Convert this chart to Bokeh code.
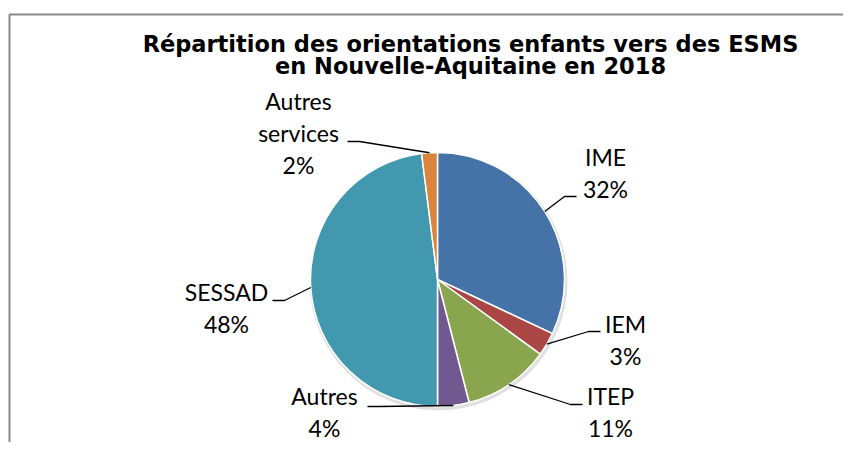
import math
from bokeh.plotting import figure
from bokeh.models import Range1d
from bokeh.core.properties import value
from bokeh.embed import file_html
from bokeh.resources import INLINE

# ---- data ----
categories = ["IME", "IEM", "ITEP", "Autres", "SESSAD", "Autres services"]
values = [32, 3, 11, 4, 48, 2]
colors = ["#4572A7", "#AA4643", "#89A54E", "#71588F", "#4198AF", "#DB843D"]
title_lines = ["Répartition des orientations enfants vers des ESMS",
               "en Nouvelle-Aquitaine en 2018"]

# ---- layout (picture pixel coordinates) ----
W, H = 843, 442
def px(x): return x
def py(y): return H - y

cx, cy, R = px(437), py(279), 127
# label centre x, first baseline y
label_pos = [(605, 164), (625, 331.7), (610, 403), (324, 403), (226, 299), (298, 108)]
# leader end (near text) x, y, direction toward pie
leader_end = [(576, 196, -1), (600, 331, -1), (582, 404, -1), (367, 406, 1), (272, 300, 1), (347, 141, 1)]
line_gap = 32
label_dy = -8   # correction for renderer baseline placement
title_dy = -7

p = figure(width=W, height=H, output_backend="svg", toolbar_location=None,
           x_range=Range1d(0, W), y_range=Range1d(0, H), min_border=0)
p.axis.visible = False
p.grid.visible = False
p.outline_line_color = None
p.background_fill_color = "white"
p.border_fill_color = "white"

# frame (left and top edges visible)
p.line(x=[9, 9, W + 5], y=[-5, py(14), py(14)], line_color="#898989", line_width=2)

total = sum(values)
starts, ends, mids = [], [], []
c = 0.0
for v in values:
    a0 = math.pi / 2 - 2 * math.pi * c / total
    c += v
    a1 = math.pi / 2 - 2 * math.pi * c / total
    starts.append(a0); ends.append(a1); mids.append((a0 + a1) / 2)

# soft shadow
p.circle(x=[cx + 1], y=[cy - 2], radius=R + 2, fill_color="#000000", fill_alpha=0.12, line_color=None)
p.wedge(x=[cx] * len(values), y=[cy] * len(values), radius=R,
        start_angle=starts, end_angle=ends, direction="clock",
        fill_color=colors, line_color="white", line_width=1.5)

# leaders
xs, ys = [], []
for m, (ex, ey, d) in zip(mids, leader_end):
    rx, ry = cx + R * math.cos(m), cy + R * math.sin(m)
    xs.append([rx, px(ex + d * 12), px(ex)])
    ys.append([ry, py(ey), py(ey)])
p.multi_line(xs=xs, ys=ys, line_color="black", line_width=1.3)

# labels
tx, ty, tt = [], [], []
for cat, v, (lx, ly) in zip(categories, values, label_pos):
    lines = cat.split(" ") if cat == "Autres services" else [cat]
    lines = lines + [f"{v}%"]
    for i, s in enumerate(lines):
        tx.append(px(lx)); ty.append(py(ly + i * line_gap + label_dy)); tt.append(s)
p.text(x=tx, y=ty, text=tt, text_font=value("Lato"), text_font_size="23px",
       text_align="center", text_baseline="alphabetic", text_color="black")

# title
p.text(x=[px(470)] * 2, y=[py(50 + title_dy), py(72.8 + title_dy)], text=title_lines,
       text_font=value("DejaVu Sans"), text_font_style="bold", text_font_size="22.5px",
       text_align="center", text_baseline="alphabetic", text_color="black")

open("out.html", "w").write(file_html(p, INLINE))
